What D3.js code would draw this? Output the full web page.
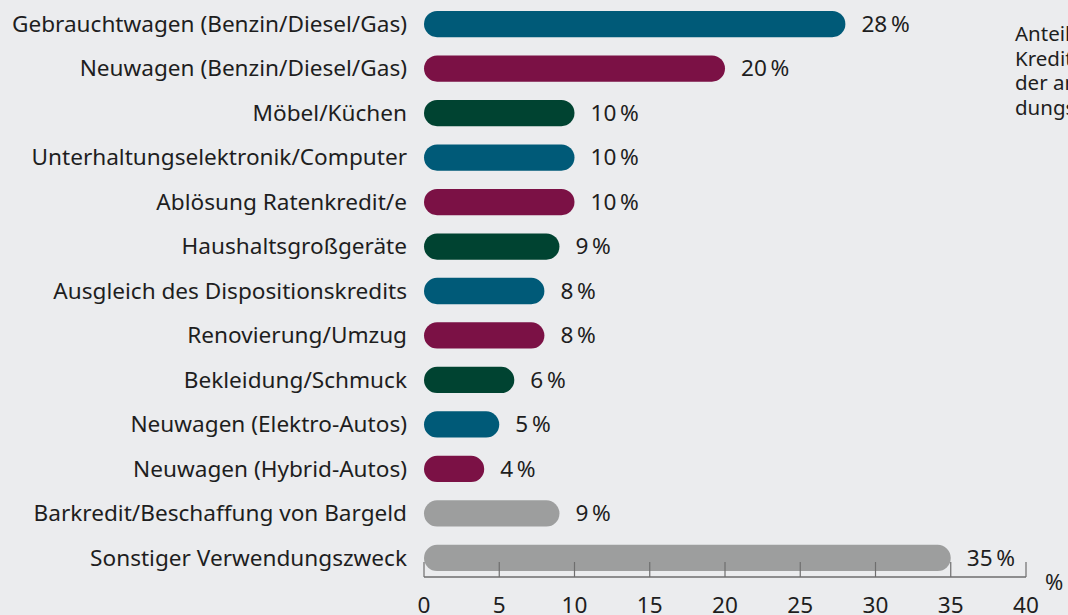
<!doctype html>
<html>
  <head>
    <meta charset="utf-8">
    <title>Verwendungszweck Kredite</title>
    <script src="https://cdnjs.cloudflare.com/ajax/libs/d3/7.8.5/d3.min.js"></script>
    <style>
      body { margin: 0; background: #ebecee; }
      svg { display: block; font-family: "Noto Sans", sans-serif; }
    </style>
  </head>
  <body>
    <svg id="chart" width="1068" height="615"></svg>
    <script>
      var categories = [
        "Gebrauchtwagen (Benzin/Diesel/Gas)",
        "Neuwagen (Benzin/Diesel/Gas)",
        "Möbel/Küchen",
        "Unterhaltungselektronik/Computer",
        "Ablösung Ratenkredit/e",
        "Haushaltsgroßgeräte",
        "Ausgleich des Dispositionskredits",
        "Renovierung/Umzug",
        "Bekleidung/Schmuck",
        "Neuwagen (Elektro-Autos)",
        "Neuwagen (Hybrid-Autos)",
        "Barkredit/Beschaffung von Bargeld",
        "Sonstiger Verwendungszweck"
      ];
      var values = [28, 20, 10, 10, 10, 9, 8, 8, 6, 5, 4, 9, 35];
      var groups = ["blau", "rot", "gruen", "blau", "rot", "gruen", "blau", "rot", "gruen", "blau", "rot", "grau", "grau"];
      var ticks = [0, 5, 10, 15, 20, 25, 30, 35, 40];
      var noteLines = ["Anteil der", "Kredite an", "der angegebenen Verwen-", "dungszwecke"];

      var colors = { blau: "#005a78", rot: "#7b1145", gruen: "#004331", grau: "#9d9e9e" };

      var svg = d3.select("#chart");

      var x = d3.scaleLinear().domain([0, 40]).range([424, 1026]);
      var y = d3.scaleBand().domain(categories).range([2, 580]).paddingInner(0.41).paddingOuter(0.2);

      var rows = svg.selectAll("g.row")
        .data(categories)
        .enter()
        .append("g")
        .attr("class", "row");

      rows.append("rect")
        .attr("x", x(0))
        .attr("y", d => y(d))
        .attr("width", (d, i) => x(values[i]) - x(0))
        .attr("height", y.bandwidth())
        .attr("rx", y.bandwidth() / 2)
        .attr("fill", (d, i) => colors[groups[i]]);

      rows.append("text")
        .attr("x", 407)
        .attr("y", d => y(d) + y.bandwidth() / 2)
        .attr("dy", "0.35em")
        .attr("text-anchor", "end")
        .attr("font-size", "22.6px")
        .attr("fill", "#1e1e1e")
        .text(d => d);

      rows.append("text")
        .attr("x", (d, i) => x(values[i]) + 16)
        .attr("y", d => y(d) + y.bandwidth() / 2)
        .attr("dy", "0.35em")
        .attr("font-size", "22.6px")
        .attr("fill", "#1e1e1e")
        .text((d, i) => values[i] + "\u2009%");

      // Achse
      var axis = svg.append("g").attr("transform", "translate(0,577)");
      axis.append("line")
        .attr("x1", x(0)).attr("x2", x(40))
        .attr("stroke", "#6e6e6e").attr("stroke-width", 1.5);
      axis.selectAll("line.tick")
        .data(ticks)
        .enter()
        .append("line")
        .attr("class", "tick")
        .attr("x1", d => x(d)).attr("x2", d => x(d))
        .attr("y1", 0).attr("y2", -15)
        .attr("stroke", "#6e6e6e").attr("stroke-width", 1.2);
      axis.selectAll("text")
        .data(ticks)
        .enter()
        .append("text")
        .attr("x", d => x(d))
        .attr("y", 36)
        .attr("text-anchor", "middle")
        .attr("font-size", "22.6px")
        .attr("fill", "#1e1e1e")
        .text(d => d);
      axis.append("text")
        .attr("x", 1045)
        .attr("y", 13)
        .attr("font-size", "22px")
        .attr("fill", "#1e1e1e")
        .text("%");

      svg.append("g")
        .selectAll("text")
        .data(noteLines)
        .enter()
        .append("text")
        .attr("x", 1015)
        .attr("y", (d, i) => 41 + i * 24.5)
        .attr("font-size", "20.5px")
        .attr("fill", "#1e1e1e")
        .text(d => d);
    </script>
  </body>
</html>
